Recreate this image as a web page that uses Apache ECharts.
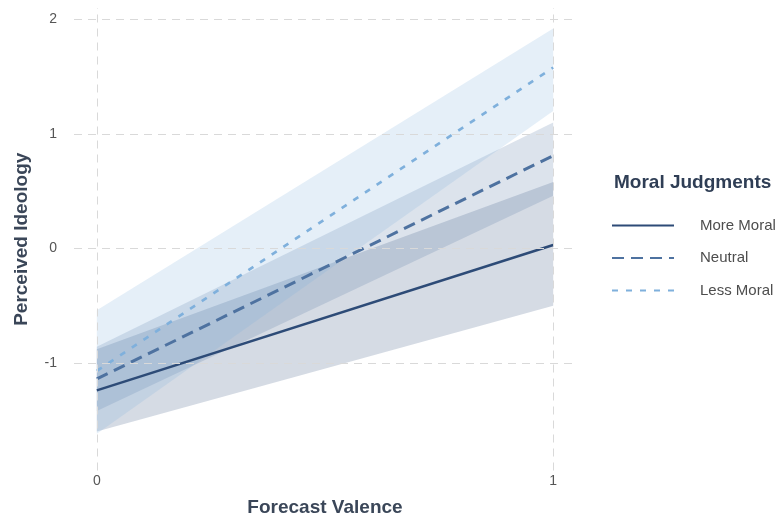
<!DOCTYPE html>
<html><head><meta charset="utf-8">
<script src="https://cdn.jsdelivr.net/npm/echarts@6/dist/echarts.min.js"></script>
<style>html,body{margin:0;padding:0;background:#fff}#c{width:779px;height:522px}</style>
</head><body><div id="c"></div>
<script>
const xValues = [0, 1];
const groups = ['More Moral', 'Neutral', 'Less Moral'];
const moreMoralFit = [-1.24, 0.03];
const moreMoralLower = [-1.60, -0.50];
const moreMoralUpper = [-0.88, 0.58];
const neutralFit = [-1.14, 0.81];
const neutralLower = [-1.42, 0.46];
const neutralUpper = [-0.86, 1.10];
const lessMoralFit = [-1.07, 1.58];
const lessMoralLower = [-1.62, 1.20];
const lessMoralUpper = [-0.54, 1.92];
const yTicks = [-1, 0, 1, 2];
const xTicks = [0, 1];

const FONT = 'Liberation Sans, Arial, Helvetica, sans-serif';
const colors = ['#2d4b77', '#4e72a0', '#7fb0dc'];
const lineTypes = ['solid', [12, 7], [6, 8]];
const lineWidths = [2.6, 3, 2.6];
const fits = [moreMoralFit, neutralFit, lessMoralFit];
const lowers = [moreMoralLower, neutralLower, lessMoralLower];
const uppers = [moreMoralUpper, neutralUpper, lessMoralUpper];

function bandRender(color) {
  return function (params, api) {
    const a = api.coord([api.value(0), api.value(1)]);
    const b = api.coord([api.value(3), api.value(4)]);
    const c = api.coord([api.value(3), api.value(5)]);
    const d = api.coord([api.value(0), api.value(2)]);
    return {
      type: 'polygon',
      shape: { points: [a, b, c, d] },
      style: { fill: color, opacity: 0.2 }
    };
  };
}

const series = [];
series.push({
  type: 'line', name: 'grid', data: [], silent: true, z: 0, animation: false,
  markLine: {
    silent: true, symbol: ['none', 'none'], animation: false,
    label: { show: false },
    lineStyle: { type: [8, 6], color: '#d9d9d9', width: 1 },
    data: yTicks.map(v => ({ yAxis: v })).concat(xTicks.map(v => ({ xAxis: v })))
  }
});
groups.forEach((g, i) => {
  series.push({
    type: 'custom', name: g + ' band', silent: true, z: 2, animation: false,
    renderItem: bandRender(colors[i]),
    encode: { x: [0, 3], y: [1, 2, 4, 5] },
    data: [[xValues[0], lowers[i][0], uppers[i][0], xValues[1], lowers[i][1], uppers[i][1]]]
  });
});
groups.forEach((g, i) => {
  series.push({
    type: 'line', name: g, symbol: 'none', silent: true, animation: false, z: 3,
    data: xValues.map((x, k) => [x, fits[i][k]]),
    itemStyle: { color: colors[i] },
    lineStyle: { color: colors[i], width: lineWidths[i], type: lineTypes[i] }
  });
});

const chart = echarts.init(document.getElementById('c'), null, { renderer: 'canvas' });
chart.setOption({
  backgroundColor: '#fff',
  animation: false,
  title: {
    text: 'Moral Judgments', left: 609, top: 168,
    textStyle: { fontFamily: FONT, fontSize: 19, fontWeight: 'bold', color: '#2f3e55' }
  },
  legend: {
    data: groups, orient: 'vertical', left: 606, top: 213,
    itemWidth: 62, itemHeight: 16, itemGap: 17.5,
    itemStyle: { opacity: 0 },
    textStyle: { fontFamily: FONT, fontSize: 15, color: '#4d4d4d', padding: [0, 0, 0, 21] }
  },
  grid: { left: 74, right: 203, top: 8, bottom: 48, containLabel: false },
  xAxis: {
    type: 'value', min: -0.05, max: 1.05,
    name: 'Forecast Valence', nameLocation: 'middle', nameGap: 27.5,
    nameTextStyle: { fontFamily: FONT, fontSize: 19, fontWeight: 'bold', color: '#3a4658' },
    axisLine: { show: false }, axisTick: { show: false }, splitLine: { show: false },
    axisLabel: { customValues: xTicks, margin: 4, fontFamily: FONT, fontSize: 14, color: '#555' }
  },
  yAxis: {
    type: 'value', min: -1.94, max: 2.10,
    name: 'Perceived Ideology', nameLocation: 'middle', nameGap: 42.5, nameRotate: 90,
    nameTextStyle: { fontFamily: FONT, fontSize: 19, fontWeight: 'bold', color: '#3a4658' },
    axisLine: { show: false }, axisTick: { show: false }, splitLine: { show: false },
    axisLabel: { customValues: yTicks, margin: 17, fontFamily: FONT, fontSize: 14, color: '#555' }
  },
  series: series
});
</script></body></html>
